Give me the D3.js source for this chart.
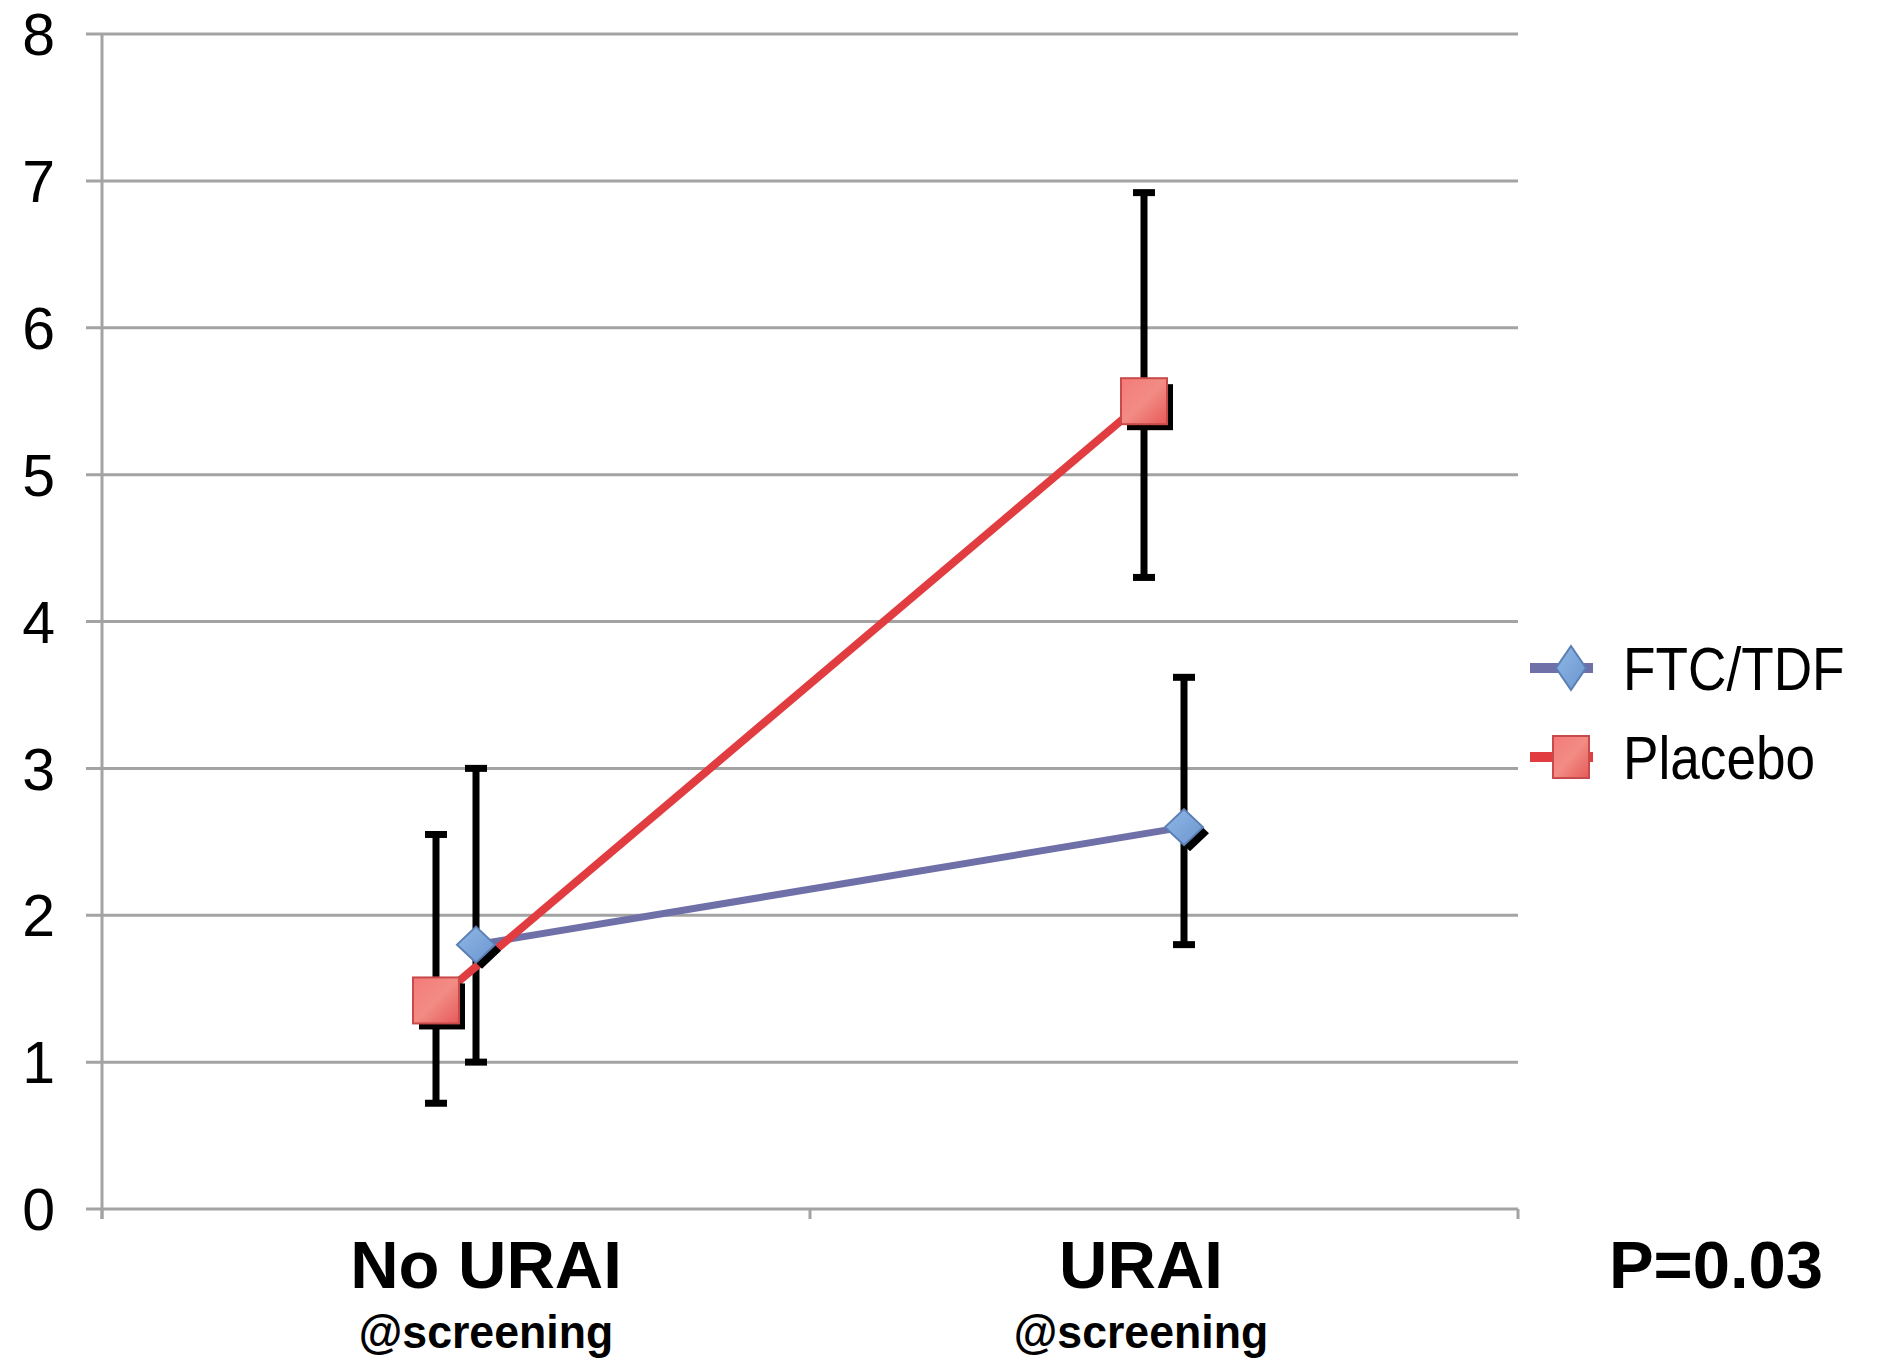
<!DOCTYPE html>
<html><head><meta charset="utf-8">
<script src="https://cdn.jsdelivr.net/npm/d3@7"></script>
<style>
html,body{margin:0;padding:0;background:#fff;}
text{font-family:Arial,"Liberation Sans",sans-serif;}
</style></head>
<body>
<svg id="chart" width="1892" height="1372"></svg>
<script>
const categories = ["No URAI", "URAI"];
const subLabels = ["@screening", "@screening"];
const seriesNames = ["FTC/TDF", "Placebo"];
const ftcValues = [1.8, 2.6];
const ftcLow = [1.0, 1.8];
const ftcHigh = [3.0, 3.62];
const placeboValues = [1.42, 5.5];
const placeboLow = [0.72, 4.3];
const placeboHigh = [2.55, 6.92];
const yTicks = [0, 1, 2, 3, 4, 5, 6, 7, 8];
const pLabel = "P=0.03";

(function () {
const svg = d3.select("#chart");
const mLeft = 102, mRight = 1518, mTop = 34, mBottom = 1209;

const x = d3.scaleBand().domain(categories).range([mLeft, mRight]).padding(0);
const y = d3.scaleLinear().domain([0, 8]).range([mBottom, mTop]);

const gridColor = "#a3a3a3";

svg.append("g").selectAll("line").data(yTicks).join("line")
  .attr("x1", mLeft - 16).attr("x2", mRight)
  .attr("y1", d => y(d)).attr("y2", d => y(d))
  .attr("stroke", gridColor).attr("stroke-width", 3);

svg.append("line").attr("x1", mLeft).attr("x2", mLeft).attr("y1", mTop).attr("y2", mBottom + 10)
  .attr("stroke", gridColor).attr("stroke-width", 3);

const bounds = [mLeft, x(categories[1]), mRight];
svg.append("g").selectAll("line").data(bounds).join("line")
  .attr("x1", d => d).attr("x2", d => d).attr("y1", mBottom).attr("y2", mBottom + 10)
  .attr("stroke", gridColor).attr("stroke-width", 3);

svg.append("g").selectAll("text").data(yTicks).join("text")
  .attr("x", 55).attr("y", d => y(d)).attr("dy", "0.36em")
  .attr("text-anchor", "end").attr("font-size", 59).attr("fill", "#000")
  .text(d => d);

const catCenter = c => x(c) + x.bandwidth() / 2;
const labelShift = [30, -23];
svg.append("g").selectAll("text").data(categories).join("text")
  .attr("x", (d, i) => catCenter(d) + labelShift[i]).attr("y", 1288)
  .attr("text-anchor", "middle").attr("font-size", 67).attr("font-weight", "bold")
  .text(d => d);
svg.append("g").selectAll("text").data(subLabels).join("text")
  .attr("transform", (d, i) => `translate(${catCenter(categories[i]) + labelShift[i]},1348) scale(0.95,1)`)
  .attr("text-anchor", "middle").attr("font-size", 47).attr("font-weight", "bold")
  .text(d => d);

svg.append("text").attr("x", 1716).attr("y", 1288).attr("text-anchor", "middle")
  .attr("font-size", 67).attr("font-weight", "bold").text(pLabel);

const defs = svg.append("defs");
const gs = defs.append("linearGradient").attr("id", "gSq").attr("x1", 0).attr("y1", 0).attr("x2", 1).attr("y2", 1);
gs.append("stop").attr("offset", "0%").attr("stop-color", "#f47a7a");
gs.append("stop").attr("offset", "50%").attr("stop-color", "#f28c84");
gs.append("stop").attr("offset", "100%").attr("stop-color", "#e65a5a");
const gd = defs.append("linearGradient").attr("id", "gDi").attr("x1", 0).attr("y1", 0).attr("x2", 1).attr("y2", 1);
gd.append("stop").attr("offset", "0%").attr("stop-color", "#8fb8e6");
gd.append("stop").attr("offset", "100%").attr("stop-color", "#6b96cf");

const series = [
  {name: seriesNames[0], vals: ftcValues, lo: ftcLow, hi: ftcHigh, offset: 20, line: "#6f70a8", lw: 7, marker: "diamond"},
  {name: seriesNames[1], vals: placeboValues, lo: placeboLow, hi: placeboHigh, offset: -20, line: "#e13c40", lw: 8, marker: "square"}
];
const px = (s, i) => catCenter(categories[i]) + s.offset;

series.forEach(s => {
  const g = svg.append("g");
  s.vals.forEach((v, i) => {
    const cx = px(s, i);
    g.append("line").attr("x1", cx).attr("x2", cx).attr("y1", y(s.lo[i])).attr("y2", y(s.hi[i]))
      .attr("stroke", "#000").attr("stroke-width", 7);
    [s.lo[i], s.hi[i]].forEach(e => {
      g.append("line").attr("x1", cx - 11).attr("x2", cx + 11).attr("y1", y(e)).attr("y2", y(e))
        .attr("stroke", "#000").attr("stroke-width", 7);
    });
  });
});

series.forEach(s => {
  const lineGen = d3.line().x((d, i) => px(s, i)).y(d => y(d));
  svg.append("path").datum(s.vals).attr("d", lineGen).attr("fill", "none")
    .attr("stroke", s.line).attr("stroke-width", s.lw);
});

function drawMarker(g, type, cx, cy) {
  if (type === "square") {
    const h = 23;
    g.append("rect").attr("x", cx - h + 6).attr("y", cy - h + 6).attr("width", 2 * h).attr("height", 2 * h).attr("fill", "#000");
    g.append("rect").attr("x", cx - h).attr("y", cy - h).attr("width", 2 * h).attr("height", 2 * h)
      .attr("fill", "url(#gSq)").attr("stroke", "#c94a4a").attr("stroke-width", 2);
  } else {
    const w = 19, hh = 18;
    const pts = (dx, dy) => [[cx + dx, cy - hh + dy], [cx + w + dx, cy + dy], [cx + dx, cy + hh + dy], [cx - w + dx, cy + dy]].join(" ");
    g.append("polygon").attr("points", pts(6, 6)).attr("fill", "#000");
    g.append("polygon").attr("points", pts(0, 0)).attr("fill", "url(#gDi)").attr("stroke", "#5b7fb3").attr("stroke-width", 2);
  }
}

series.forEach(s => {
  const g = svg.append("g");
  s.vals.forEach((v, i) => drawMarker(g, s.marker, px(s, i), y(v)));
});

const legY = [668, 757];
series.forEach((s, i) => {
  const g = svg.append("g");
  g.append("line").attr("x1", 1530).attr("x2", 1593).attr("y1", legY[i]).attr("y2", legY[i])
    .attr("stroke", s.line).attr("stroke-width", 10);
  const cx = 1571;
  if (s.marker === "square") {
    g.append("rect").attr("x", cx - 18).attr("y", legY[i] - 21).attr("width", 36).attr("height", 42)
      .attr("fill", "url(#gSq)").attr("stroke", "#c94a4a").attr("stroke-width", 2);
  } else {
    g.append("polygon").attr("points", [[cx, legY[i] - 22], [cx + 15, legY[i]], [cx, legY[i] + 22], [cx - 15, legY[i]]].join(" "))
      .attr("fill", "url(#gDi)").attr("stroke", "#5b7fb3").attr("stroke-width", 2);
  }
  g.append("text").attr("transform", `translate(1623,${legY[i]}) scale(0.95,1.08)`).attr("dy", "0.36em")
    .attr("font-size", 56).text(s.name);
});
})();
</script>
</body></html>
